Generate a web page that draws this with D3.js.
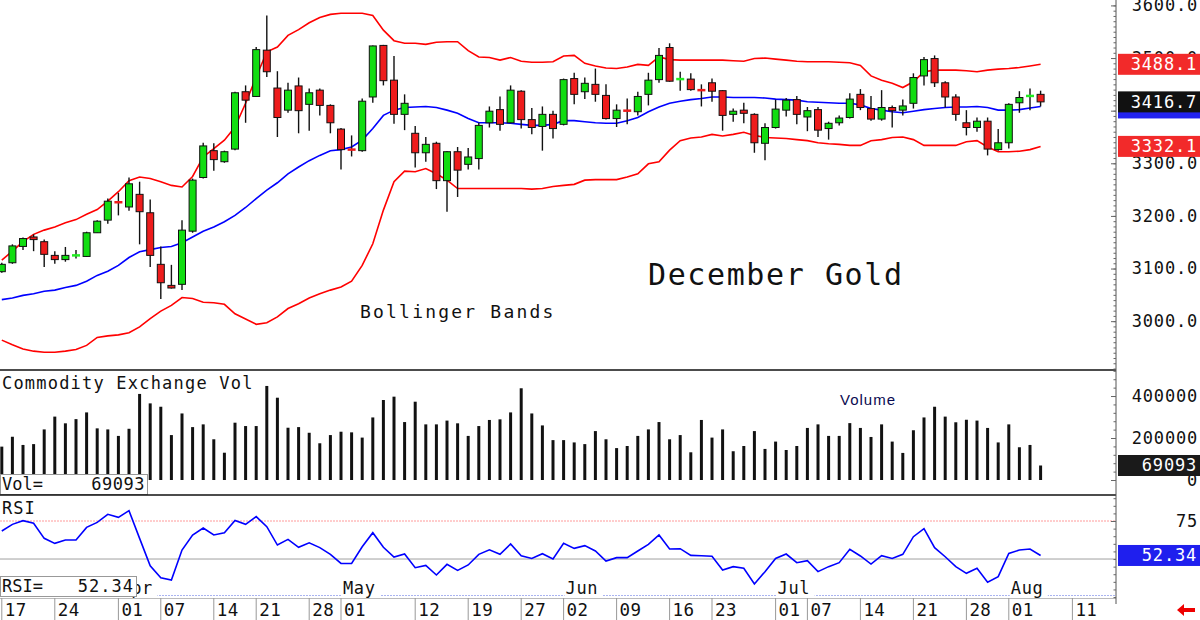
<!DOCTYPE html>
<html>
<head>
<meta charset="utf-8">
<script src="https://cdn.jsdelivr.net/npm/d3@7"></script>
<style>
  body { margin: 0; background: #fff; }
  svg { display: block; }
  .mono { font-family: "DejaVu Sans Mono", monospace; }
</style>
</head>
<body>
<svg id="chart" width="1200" height="620"></svg>
<script>
// trading days, Mar 17 .. Aug 11 (last three have no bars yet)
const tradingDays = ("03-17 03-18 03-19 03-20 03-21 03-24 03-25 03-26 03-27 03-28 " +
  "03-31 04-01 04-02 04-03 04-04 04-07 04-08 04-09 04-10 04-11 04-14 04-15 04-16 04-17 " +
  "04-21 04-22 04-23 04-24 04-25 04-28 04-29 04-30 05-01 05-02 05-05 05-06 05-07 05-08 05-09 " +
  "05-12 05-13 05-14 05-15 05-16 05-19 05-20 05-21 05-22 05-23 05-27 05-28 05-29 05-30 " +
  "06-02 06-03 06-04 06-05 06-06 06-09 06-10 06-11 06-12 06-13 06-16 06-17 06-18 06-20 " +
  "06-23 06-24 06-25 06-26 06-27 06-30 07-01 07-02 07-03 07-07 07-08 07-09 07-10 07-11 " +
  "07-14 07-15 07-16 07-17 07-18 07-21 07-22 07-23 07-24 07-25 07-28 07-29 07-30 07-31 08-01 " +
  "08-04 08-05 08-06 08-07 08-08 08-11").split(" ");

const openPx = [3094,3111,3142,3160,3151,3125,3117,3124,3123,3168,3192,3227,3217,3241,3206,3108,3068,3070,3171,3273,
  3324,3303,3327,3436,3427,3515,3443,3401,3447,3412,3439,3410,3365,3327,3324,3426,3524,3458,3393,3357,
  3320,3338,3267,3322,3298,3309,3377,3402,3377,3437,3383,3370,3393,3374,3461,3436,3450,3429,3385,3402,
  3398,3431,3459,3520,3459,3460,3441,3453,3438,3393,3401,3393,3338,3368,3401,3421,3388,3402,3366,3377,
  3387,3431,3404,3384,3406,3401,3414,3466,3499,3453,3426,3377,3368,3380,3326,3339,3415,3427,3431];
const highPx = [3111,3146,3159,3165,3155,3133,3141,3135,3170,3192,3233,3244,3273,3265,3231,3142,3107,3192,3271,3339,
  3338,3324,3436,3448,3521,3581,3475,3453,3463,3442,3442,3412,3367,3353,3423,3524,3525,3504,3431,3371,
  3350,3341,3323,3331,3329,3377,3408,3427,3448,3439,3405,3408,3400,3461,3472,3463,3480,3450,3412,3423,
  3436,3472,3519,3528,3474,3471,3450,3461,3439,3404,3415,3395,3376,3421,3424,3428,3407,3407,3379,3391,
  3433,3441,3428,3439,3410,3421,3471,3502,3505,3456,3431,3401,3387,3387,3365,3414,3437,3442,3438];
const lowPx = [3092,3109,3135,3133,3103,3109,3113,3119,3122,3168,3185,3201,3210,3146,3103,3042,3062,3059,3168,3271,
  3286,3301,3325,3377,3426,3464,3350,3396,3357,3362,3391,3357,3288,3313,3322,3415,3448,3375,3363,3292,
  3303,3251,3208,3236,3288,3288,3368,3362,3376,3366,3355,3324,3347,3372,3412,3422,3417,3383,3369,3374,
  3391,3410,3453,3455,3438,3438,3408,3417,3362,3379,3376,3320,3306,3366,3389,3374,3361,3350,3345,3372,
  3385,3401,3381,3381,3368,3391,3404,3448,3445,3406,3381,3353,3360,3315,3324,3328,3396,3401,3408];
const closePx = [3108,3143,3157,3155,3127,3117,3125,3125,3168,3190,3228,3226,3261,3208,3125,3073,3063,3173,3268,3333,
  3307,3322,3434,3420,3516,3474,3387,3439,3400,3434,3410,3377,3326,3326,3418,3523,3457,3393,3414,3320,
  3336,3267,3322,3287,3312,3372,3399,3374,3439,3383,3368,3393,3366,3459,3431,3452,3431,3385,3401,3400,
  3427,3458,3505,3456,3460,3440,3439,3437,3391,3399,3395,3339,3368,3403,3420,3393,3400,3363,3376,3386,
  3422,3406,3384,3406,3400,3409,3463,3497,3453,3426,3393,3368,3380,3327,3339,3412,3425,3428,3416.7];

const bbUpper = [3116,3133,3151,3165,3173,3179,3187,3193,3203,3212,3228,3246,3267,3274,3271,3265,3258,3255,3275,3312,
  3328,3344,3369,3414,3464,3512,3521,3543,3554,3567,3577,3583,3585,3585,3585,3581,3553,3533,3528,3528,
  3526,3530,3531,3531,3514,3502,3501,3496,3501,3494,3492,3492,3493,3504,3505,3490,3485,3481,3480,3483,
  3488,3486,3502,3497,3496,3496,3496,3496,3496,3495,3494,3499,3500,3498,3496,3494,3493,3493,3493,3492,
  3491,3486,3466,3458,3452,3444,3455,3474,3477,3477,3477,3476,3474,3477,3479,3480,3482,3485,3488.1];
const bbMiddle = [3041,3044,3049,3052,3057,3059,3064,3068,3076,3087,3095,3106,3121,3132,3136,3140,3142,3149,3160,3171,
  3179,3189,3201,3216,3233,3249,3263,3280,3293,3305,3315,3324,3326,3331,3344,3366,3391,3401,3406,3407,
  3408,3406,3401,3395,3385,3377,3377,3377,3376,3374,3372,3372,3374,3381,3381,3379,3377,3376,3376,3381,
  3387,3398,3407,3414,3418,3421,3423,3426,3426,3425,3425,3425,3424,3422,3421,3420,3417,3416,3415,3414,
  3414,3411,3404,3401,3398,3396,3399,3402,3404,3406,3407,3407,3408,3406,3401,3401,3402,3405,3408];
const bbLower = [2964,2955,2947,2943,2941,2941,2943,2946,2954,2969,2972,2974,2978,2989,3005,3019,3030,3045,3043,3036,
  3035,3032,3014,3004,2994,2997,3008,3024,3033,3044,3052,3059,3065,3076,3106,3147,3211,3265,3285,3284,
  3290,3280,3268,3252,3252,3252,3252,3252,3252,3252,3251,3252,3256,3258,3260,3268,3269,3269,3269,3274,
  3280,3299,3303,3325,3343,3348,3350,3355,3352,3355,3359,3353,3349,3348,3347,3345,3343,3339,3337,3336,
  3334,3334,3343,3345,3349,3350,3345,3334,3334,3334,3334,3341,3343,3331,3322,3322,3323,3326,3332.1];

const volume = [159000,206000,167000,171000,241000,302000,270000,290000,322000,246000,241000,210000,244000,410000,365000,
  349000,214000,317000,252000,265000,194000,130000,273000,257000,257000,448000,392000,249000,252000,225000,
  175000,214000,230000,227000,202000,298000,381000,397000,276000,373000,265000,265000,283000,270000,210000,
  257000,286000,289000,322000,437000,317000,260000,190000,190000,179000,171000,233000,194000,152000,162000,
  210000,241000,276000,194000,214000,132000,286000,202000,241000,137000,162000,233000,148000,183000,143000,
  162000,248000,265000,210000,210000,271000,248000,205000,265000,183000,129000,237000,298000,349000,302000,
  275000,287000,283000,248000,179000,265000,156000,167000,69093];

const rsi = [68.4,72.8,75.2,73.5,63.6,60.3,62.5,62.5,70.8,74.1,79.4,77.4,81.8,63.6,45.6,37.7,36.2,55.9,65.8,70.4,
  65.8,67.3,75.4,72.8,77.9,71.3,59.2,62.9,57.7,60.7,57.5,53.1,47.1,47.1,58.1,67.3,57.7,51.3,53.3,44.3,
  45.8,39.5,46.5,42.5,46.1,53.1,56.1,53.1,59.9,52.2,50.4,53.5,50.0,60.3,57.0,58.8,55.3,48.7,50.9,50.9,
  55.3,59.6,65.8,56.6,56.8,52.4,52.2,51.8,42.8,45.0,43.9,33.6,41.7,50.4,53.3,47.6,48.9,41.7,45.0,47.6,
  56.4,52.0,46.7,52.2,50.4,53.1,64.7,70.0,57.5,51.5,45.0,40.6,43.9,34.7,38.4,53.7,55.9,56.6,52.34];

// axis labels
const dayTicks = ["03-17","03-24","04-01","04-07","04-14","04-21","04-28","05-01","05-12","05-19","05-27",
  "06-02","06-09","06-16","06-23","07-01","07-07","07-14","07-21","07-28","08-01","08-11"];
const monthTicks = [["04-01","Apr"],["05-01","May"],["06-02","Jun"],["07-01","Jul"],["08-01","Aug"]];
const priceTicks = [3000,3100,3200,3300,3400,3500,3600];
const volTicks = [0,200000,400000];
const rsiTicks = [75];

const svg = d3.select("#chart");
const axisX = 1116;
const mono = '"DejaVu Sans Mono", monospace';

// scales
const x = d3.scalePoint().domain(tradingDays).range([1.8, 1072.4]);
const y = d3.scaleLinear().domain([2907.2, 3610.3]).range([370, 0]);
const yVol = d3.scaleLinear().domain([0, 524000]).range([480, 370]);
const yRsi = d3.scaleLinear().domain([22.4, 92.1]).range([601, 495]);

const bars = openPx.map((o, i) => ({
  day: tradingDays[i], o: o, h: highPx[i], l: lowPx[i], c: closePx[i],
  up: bbUpper[i], mid: bbMiddle[i], lo: bbLower[i], v: volume[i], r: rsi[i]
}));

// ---- price panel ----
const bandLine = key => d3.line().x(d => x(d.day)).y(d => y(d[key]));
svg.append("path").datum(bars).attr("d", bandLine("up"))
  .attr("fill", "none").attr("stroke", "#ff0000").attr("stroke-width", 1.6);
svg.append("path").datum(bars).attr("d", bandLine("lo"))
  .attr("fill", "none").attr("stroke", "#ff0000").attr("stroke-width", 1.6);
svg.append("path").datum(bars).attr("d", bandLine("mid"))
  .attr("fill", "none").attr("stroke", "#0000ff").attr("stroke-width", 1.6);

svg.append("text").attr("x", 360).attr("y", 318).attr("font-family", mono)
  .attr("font-size", 18).attr("letter-spacing", 2.2).attr("fill", "#111").text("Bollinger Bands");
svg.append("text").attr("x", 648).attr("y", 285).attr("font-family", mono)
  .attr("font-size", 30).attr("letter-spacing", 1.6).attr("fill", "#111").text("December Gold");

const candle = svg.append("g").selectAll("g").data(bars).join("g");
candle.append("line")
  .attr("x1", d => x(d.day)).attr("x2", d => x(d.day))
  .attr("y1", d => y(d.h)).attr("y2", d => y(d.l))
  .attr("stroke", "#111").attr("stroke-width", 1.4);
candle.filter(d => Math.abs(d.c - d.o) >= 3).append("rect")
  .attr("x", d => x(d.day) - 3.5).attr("width", 7)
  .attr("y", d => y(Math.max(d.o, d.c)))
  .attr("height", d => Math.abs(y(d.o) - y(d.c)))
  .attr("fill", d => d.c > d.o ? "#11dd11" : "#ee1c1c")
  .attr("stroke", "#111").attr("stroke-width", 1);
candle.filter(d => Math.abs(d.c - d.o) < 3).append("line")
  .attr("x1", d => x(d.day) - 4).attr("x2", d => x(d.day) + 4)
  .attr("y1", d => y(d.c)).attr("y2", d => y(d.c))
  .attr("stroke", d => d.c >= d.o ? "#22ee22" : "#ee1c1c").attr("stroke-width", 2.5);

// ---- volume panel ----
svg.append("g").selectAll("line").data(bars).join("line")
  .attr("x1", d => x(d.day)).attr("x2", d => x(d.day))
  .attr("y1", yVol(0)).attr("y2", d => yVol(d.v))
  .attr("stroke", "#111").attr("stroke-width", 3);
svg.append("text").attr("x", 2).attr("y", 389).attr("font-family", mono)
  .attr("font-size", 17).attr("letter-spacing", 1.2).attr("fill", "#111").text("Commodity Exchange Vol");
svg.append("text").attr("x", 840).attr("y", 405).attr("font-family", "Liberation Sans, Arial, sans-serif")
  .attr("font-size", 15).attr("letter-spacing", 1).attr("fill", "#0a0a50").text("Volume");
svg.append("rect").attr("x", 0.5).attr("y", 474.5).attr("width", 147).attr("height", 20)
  .attr("fill", "#fff").attr("stroke", "#999");
svg.append("text").attr("x", 2).attr("y", 490).attr("font-family", mono).attr("font-size", 17).attr("fill", "#111").text("Vol=");
svg.append("text").attr("x", 145).attr("y", 490).attr("text-anchor", "end").attr("font-family", mono)
  .attr("font-size", 17).attr("letter-spacing", 0.5).attr("fill", "#111").text(d3.format("d")(volume[volume.length - 1]));

// ---- RSI panel ----
svg.append("line").attr("x1", 0).attr("x2", axisX).attr("y1", yRsi(75)).attr("y2", yRsi(75))
  .attr("stroke", "#ff9a9a").attr("stroke-width", 1).attr("stroke-dasharray", "2,1");
svg.append("line").attr("x1", 0).attr("x2", axisX).attr("y1", yRsi(50)).attr("y2", yRsi(50))
  .attr("stroke", "#a0a0a0").attr("stroke-width", 1);
svg.append("line").attr("x1", 0).attr("x2", axisX).attr("y1", 595.5).attr("y2", 595.5)
  .attr("stroke", "#aab4f0").attr("stroke-width", 1).attr("stroke-dasharray", "2,1");
svg.append("path").datum(bars)
  .attr("d", d3.line().x(d => x(d.day)).y(d => yRsi(d.r)))
  .attr("fill", "none").attr("stroke", "#0000ff").attr("stroke-width", 1.6);
svg.append("text").attr("x", 2).attr("y", 514).attr("font-family", mono)
  .attr("font-size", 17).attr("letter-spacing", 1).attr("fill", "#111").text("RSI");

// month labels sit in the bottom of the RSI panel, breaking the dotted baseline
const month = svg.append("g").selectAll("g").data(monthTicks).join("g")
  .attr("transform", d => `translate(${x(d[0]) + 2},0)`);
month.append("rect").attr("x", -1).attr("y", 582).attr("width", 38).attr("height", 15).attr("fill", "#fff");
month.append("text").attr("y", 594)
  .attr("font-family", mono).attr("font-size", 17).attr("letter-spacing", 0.6).attr("fill", "#111")
  .text(d => d[1]);
svg.append("rect").attr("x", 0.5).attr("y", 576.5).attr("width", 136).attr("height", 20)
  .attr("fill", "#fff").attr("stroke", "#999");
svg.append("text").attr("x", 2).attr("y", 592).attr("font-family", mono).attr("font-size", 17).attr("fill", "#111").text("RSI=");
svg.append("text").attr("x", 134).attr("y", 592).attr("text-anchor", "end").attr("font-family", mono)
  .attr("font-size", 17).attr("letter-spacing", 1).attr("fill", "#111").text(d3.format(".2f")(rsi[rsi.length - 1]));

// ---- date axis ----
svg.append("line").attr("x1", 0).attr("x2", axisX).attr("y1", 598.5).attr("y2", 598.5)
  .attr("stroke", "#bbb");
const dayTick = svg.append("g").selectAll("g").data(dayTicks).join("g")
  .attr("transform", d => `translate(${x(d)},0)`);
dayTick.append("line").attr("y1", 598).attr("y2", 620).attr("stroke", "#999").attr("stroke-width", 1);
dayTick.append("text").attr("x", 3).attr("y", 615.5).attr("font-family", mono)
  .attr("font-size", 17.5).attr("letter-spacing", 0.4).attr("fill", "#111").text(d => d.slice(3));

// ---- panel separators + right axis ----
[370, 495].forEach(py => {
  svg.append("line").attr("x1", 0).attr("x2", axisX).attr("y1", py).attr("y2", py)
    .attr("stroke", "#111").attr("stroke-width", 1.5);
});
svg.append("line").attr("x1", axisX).attr("x2", axisX).attr("y1", 0).attr("y2", 604)
  .attr("stroke", "#555").attr("stroke-width", 1);

function rightAxis(scale, minor, major, fmt) {
  svg.append("g").attr("transform", `translate(${axisX},0)`)
    .call(d3.axisRight(scale).tickValues(minor).tickSize(-2.5).tickFormat(""))
    .call(g => g.select(".domain").remove())
    .call(g => g.selectAll("line").attr("stroke", "#666"));
  svg.append("g").attr("transform", `translate(${axisX},0)`)
    .call(d3.axisRight(scale).tickValues(major).tickSize(-5).tickFormat(fmt).tickPadding(0))
    .call(g => g.select(".domain").remove())
    .call(g => g.selectAll("line").attr("stroke", "#666"))
    .call(g => g.selectAll("text").attr("x", 82).attr("text-anchor", "end")
      .attr("font-family", mono).attr("font-size", 17).attr("letter-spacing", 0.8).attr("fill", "#111"));
}
rightAxis(y, d3.range(2910, 3610, 10), priceTicks, d3.format(".1f"));
rightAxis(yVol, d3.range(0, 520001, 40000), volTicks, d3.format("d"));
rightAxis(yRsi, d3.range(25, 91, 5), rsiTicks, d => d + "  ");

// value tags on the right
function tag(py, label, fill, h) {
  h = h || 21;
  svg.append("rect").attr("x", axisX + 2).attr("y", py - h / 2).attr("width", 84).attr("height", h).attr("fill", fill);
  svg.append("text").attr("x", 1197).attr("y", py + 6).attr("text-anchor", "end")
    .attr("font-family", mono).attr("font-size", 17).attr("letter-spacing", 0.8).attr("fill", "#fff").text(label);
}
const last = bars[bars.length - 1];
tag(y(last.mid) + 0.5, "", "#2222ee", 23);
tag(y(last.up), d3.format(".1f")(last.up), "#f22a2a");
tag(y(last.c), d3.format(".1f")(last.c), "#111");
tag(y(last.lo), d3.format(".1f")(last.lo), "#f22a2a");
tag(yVol(last.v), d3.format("d")(last.v), "#1a1a1a");
tag(yRsi(last.r), d3.format(".2f")(last.r), "#1f1fee");

// little red arrow, bottom right
svg.append("path").attr("d", "M1177,610 L1184,604 L1184,608 L1195,608 L1195,612 L1184,612 L1184,616 Z")
  .attr("fill", "#e00");
</script>
</body>
</html>
